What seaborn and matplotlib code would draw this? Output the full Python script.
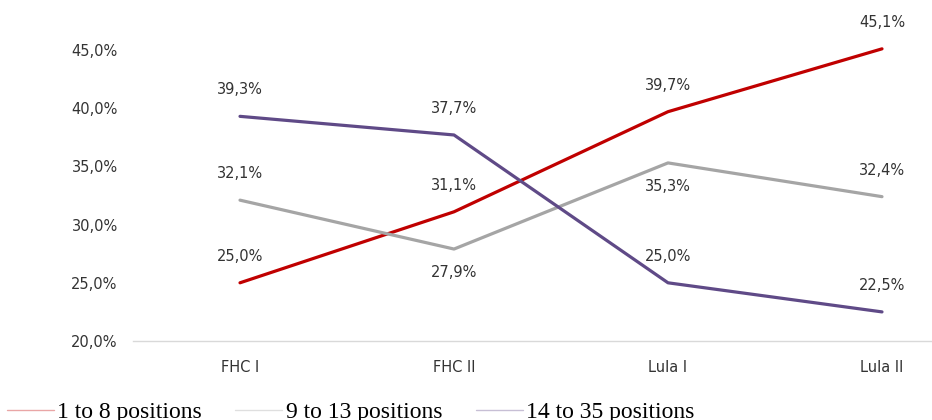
import matplotlib
matplotlib.use("Agg")
import matplotlib.pyplot as plt
import seaborn as sns
import pandas as pd

# ---- data ----
periods = ["FHC I", "FHC II", "Lula I", "Lula II"]
series_names = ["1 to 8 positions", "9 to 13 positions", "14 to 35 positions"]
vals_1_8 = [25.0, 31.1, 39.7, 45.1]
vals_9_13 = [32.1, 27.9, 35.3, 32.4]
vals_14_35 = [39.3, 37.7, 25.0, 22.5]
y_ticks = [20, 25, 30, 35, 40, 45]

# ---- style ----
colors = ["#C00000", "#A5A5A5", "#5F4A87"]
label_side = [[1, 1, 1, 1], [1, -1, -1, 1], [1, 1, 1, 1]]
text_color = "#333333"

sns.set_theme(style="white")
plt.rcParams["font.family"] = ["DejaVu Sans"]

rows = []
for name, vals in zip(series_names, [vals_1_8, vals_9_13, vals_14_35]):
    for p, v in zip(periods, vals):
        rows.append({"period": p, "value": v, "series": name})
df = pd.DataFrame(rows)

fig = plt.figure(figsize=(9.32, 4.2), dpi=100)
W, H = 932, 420
ax = fig.add_axes([133 / W, (H - 341) / H, 856 / W, (341 - 20) / H])

sns.lineplot(data=df, x="period", y="value", hue="series", hue_order=series_names,
             palette=colors, linewidth=2.3, sort=False, ax=ax, legend=True)

ax.set_xlim(-0.5, 3.5)
ax.set_ylim(20, 20 + (341 - 20) / 11.64)
ax.set_yticks(y_ticks)
ax.set_yticklabels([f"{t:.1f}%".replace(".", ",") for t in y_ticks])
ax.set_xlabel("")
ax.set_ylabel("")
for s in ["top", "right", "left"]:
    ax.spines[s].set_visible(False)
ax.spines["bottom"].set_color("#D9D9D9")
ax.spines["bottom"].set_linewidth(1.0)
ax.tick_params(axis="both", length=0, labelsize=10.5, labelcolor=text_color)
ax.tick_params(axis="y", pad=11)
ax.tick_params(axis="x", pad=14)

for si, (name, vals) in enumerate(zip(series_names, [vals_1_8, vals_9_13, vals_14_35])):
    for i, v in enumerate(vals):
        side = label_side[si][i]
        ax.annotate(f"{v:.1f}%".replace(".", ","), xy=(i, v),
                    xytext=(0, 19 if side > 0 else -17), textcoords="offset points",
                    ha="center", va="center", fontsize=10.5, color=text_color)

leg = ax.get_legend()
handles = leg.legend_handles
labels = [t.get_text() for t in leg.get_texts()]
leg.remove()
for h in handles:
    h.set_alpha(0.35)
    h.set_linewidth(1.0)
fig.legend(handles, labels, loc="lower left", bbox_to_anchor=(-0.003, -0.03),
           ncol=3, frameon=False, handlelength=2.0, handletextpad=0.15,
           columnspacing=1.4, borderaxespad=0,
           prop={"family": "Liberation Serif", "size": 17}, labelcolor="#000000")

fig.savefig("out.png", dpi=100)
